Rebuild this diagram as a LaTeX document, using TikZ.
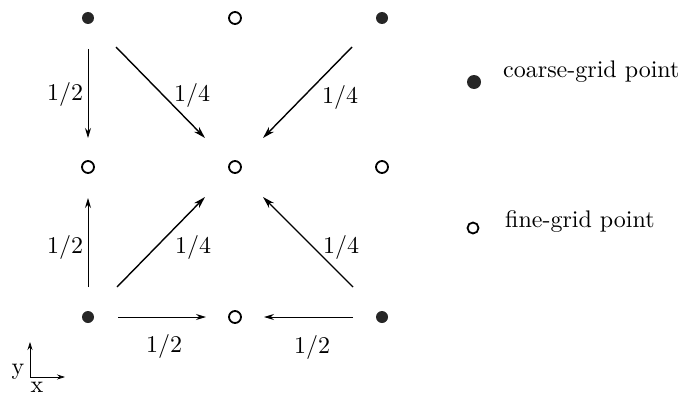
\documentclass[tikz,border=0pt]{standalone}
\usetikzlibrary{arrows.meta}
\newcommand{\sbx}[1]{\scalebox{2.4}{\fontsize{10}{12}\selectfont #1}}
\begin{document}
\begin{tikzpicture}[x=1pt,y=-1pt,
  coarse/.style={circle,fill=black!85,inner sep=0pt,minimum size=12pt},
  fine/.style={circle,draw=black,line width=1.8pt,fill=white,inner sep=0pt,minimum size=12pt},
  arr/.style={line width=1.4pt,-{Stealth[length=12pt,width=7pt]}},
  arrthin/.style={line width=1pt,-{Stealth[length=10pt,width=6pt]}},
  lab/.style={inner sep=0pt},
  txt/.style={inner sep=0pt,anchor=base west}]
\useasboundingbox (0,0) rectangle (684,396);
% grid points
\node[coarse] (c11) at (88,18) {};
\node[fine]   (f12) at (235,18) {};
\node[coarse] (c13) at (382,18) {};
\node[fine]   (f21) at (88,167) {};
\node[fine]   (f22) at (235,167) {};
\node[fine]   (f23) at (382,167) {};
\node[coarse] (c31) at (88,317) {};
\node[fine]   (f32) at (235,317) {};
\node[coarse] (c33) at (382,317) {};
% arrow end coordinates
\coordinate (a1s) at (88,49);  \coordinate (a1e) at (88,138);
\coordinate (a2s) at (88,287); \coordinate (a2e) at (88,198);
\coordinate (a3s) at (116,47); \coordinate (a3e) at (205,138);
\coordinate (a4s) at (352,47); \coordinate (a4e) at (263,138);
\coordinate (a5s) at (117,287);\coordinate (a5e) at (205,197);
\coordinate (a6s) at (353,287);\coordinate (a6e) at (263,197);
\coordinate (a7s) at (118,317);\coordinate (a7e) at (206,317);
\coordinate (a8s) at (353,317);\coordinate (a8e) at (264,317);
\draw[arrthin] (a1s) -- (a1e);
\draw[arrthin] (a2s) -- (a2e);
\draw[arr] (a3s) -- (a3e);
\draw[arr] (a4s) -- (a4e);
\draw[arr] (a5s) -- (a5e);
\draw[arr] (a6s) -- (a6e);
\draw[arrthin] (a7s) -- (a7e);
\draw[arrthin] (a8s) -- (a8e);
% labels
\node[lab] (l1) at (65,94) {\sbx{1/2}};
\node[lab] (l2) at (65,247) {\sbx{1/2}};
\node[lab] (l3) at (192,95) {\sbx{1/4}};
\node[lab] (l4) at (340,97) {\sbx{1/4}};
\node[lab] (l5) at (193,247) {\sbx{1/4}};
\node[lab] (l6) at (341,247) {\sbx{1/4}};
\node[lab] (l7) at (164,346) {\sbx{1/2}};
\node[lab] (l8) at (312,347) {\sbx{1/2}};
% legend
\node[coarse,minimum size=14pt] (lc) at (474,82) {};
\node[fine,minimum size=11pt] (lf) at (473,228) {};
\node[txt] (tc) at (503,77) {\sbx{coarse-grid point}};
\node[txt] (tf) at (505,227) {\sbx{fine-grid point}};
% axes
\coordinate (o) at (30,377);
\coordinate (ox) at (65,377);
\coordinate (oy) at (30,342);
\draw[line width=0.7pt,-{Stealth[length=8pt,width=5pt]}] (o) -- (ox);
\draw[line width=0.7pt,-{Stealth[length=8pt,width=5pt]}] (o) -- (oy);
\node[lab,anchor=base] (ly) at (18,374) {\sbx{y}};
\node[lab,anchor=base] (lx) at (37,392) {\sbx{x}};
\end{tikzpicture}
\end{document}
